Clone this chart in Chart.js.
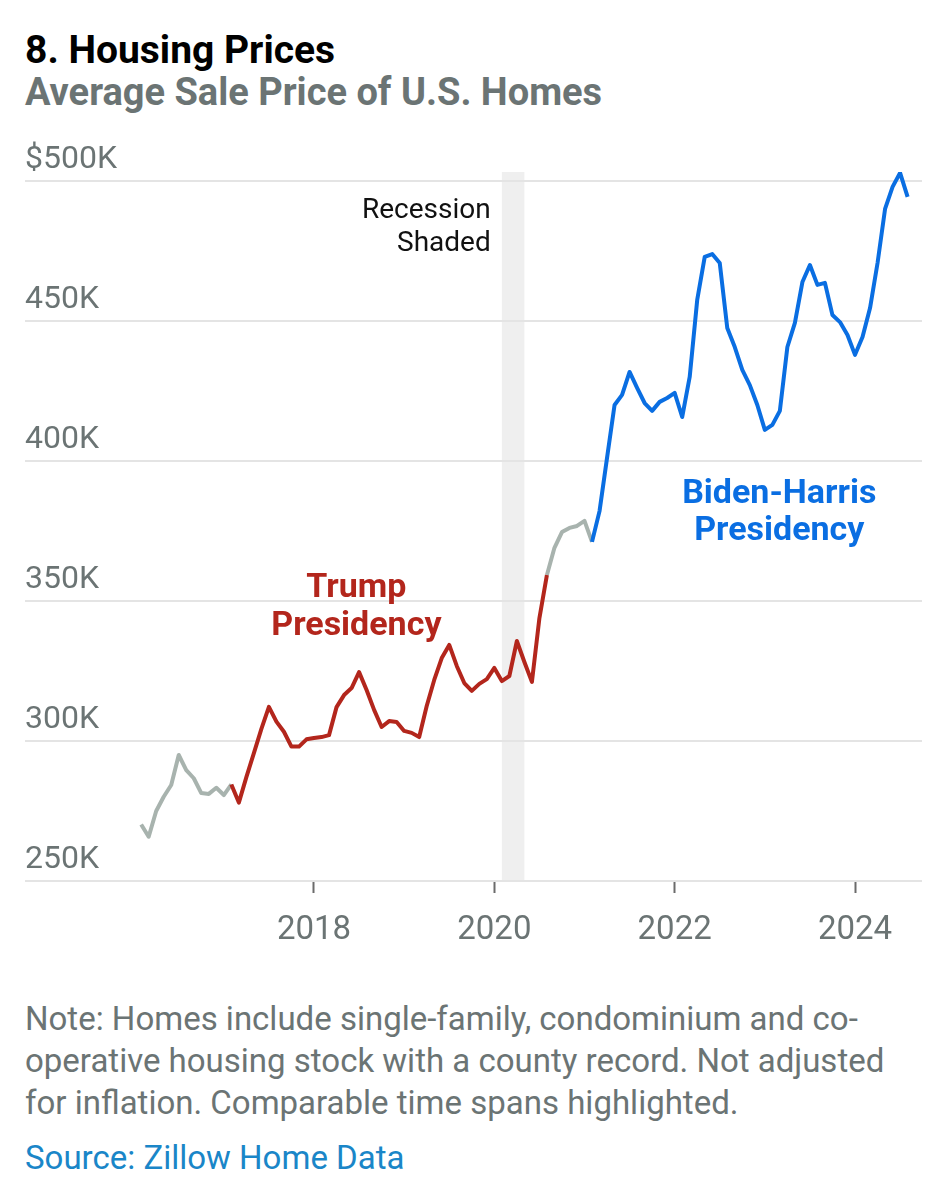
<!DOCTYPE html>
<html>
<head>
<meta charset="utf-8">
<script src="https://cdn.jsdelivr.net/npm/chart.js@4.4.0/dist/chart.umd.min.js"></script>
<style>
  body { margin: 0; background: #fff; font-family: Roboto, "Noto Sans", sans-serif; }
  #page { position: relative; width: 948px; height: 1199px; overflow: hidden; }
  .title { position: absolute; left: 25px; top: 31px; font-size: 39px; line-height: 39px; font-weight: 700; color: #000; }
  .subtitle { position: absolute; left: 25px; top: 73px; font-size: 38px; line-height: 38px; font-weight: 700; color: #6b7474; }
  #wrap { position: absolute; left: 0; top: 120px; width: 948px; height: 860px; }
  .note { position: absolute; left: 25px; top: 998px; width: 920px; font-size: 33px; line-height: 42px; color: #6b7474; }
  .source { position: absolute; left: 25px; top: 1137px; font-size: 33px; line-height: 42px; color: #1a86c8; }
</style>
</head>
<body>
<div id="page">
  <div class="title">8. Housing Prices</div>
  <div class="subtitle">Average Sale Price of U.S. Homes</div>
  <div id="wrap"><canvas id="housingChart" width="948" height="860"></canvas></div>
  <div class="note">Note: Homes include single-family, condominium and co-<br>operative housing stock with a county record. Not adjusted<br>for inflation. Comparable time spans highlighted.</div>
  <div class="source">Source: Zillow Home Data</div>
</div>
<script>
// monthly average sale price, thousands of dollars, Jan 2016 - Jul 2024
const firstMonth = "2016-01";
const prices = [
  270.2, 265.8, 275.0, 280.1, 284.3, 295.0, 289.6, 286.7, 281.4, 281.1, 283.3, 280.7,
  284.5, 278.0, 287.1, 295.7, 304.3, 312.2, 306.9, 303.3, 298.0, 298.0, 300.6, 301.1,
  301.4, 302.1, 312.1, 316.4, 318.9, 324.6, 318.2, 311.1, 305.0, 307.1, 306.8, 303.6,
  302.9, 301.4, 312.5, 321.8, 329.6, 334.3, 326.8, 320.7, 317.9, 320.4, 322.1, 326.1,
  321.4, 323.2, 335.7, 328.2, 321.1, 343.9, 359.3, 369.0, 374.6, 376.1, 376.8, 378.6,
  371.1, 382.1, 401.1, 420.0, 423.6, 431.8, 426.1, 420.7, 417.9, 421.1, 422.5, 424.3,
  415.7, 430.0, 457.5, 472.9, 473.9, 470.7, 447.5, 440.7, 432.5, 427.1, 420.0, 411.1,
  412.9, 417.9, 440.7, 449.3, 463.9, 470.0, 462.9, 463.6, 452.1, 449.6, 445.0, 437.9,
  444.3, 454.6, 470.7, 490.0, 497.9, 502.9, 494.3
];
const trumpMonths = ["2017-01", "2020-07"];
const bidenMonths = ["2021-01", "2024-07"];
const recessionMonths = ["2020-02", "2020-04"];
const xTickYears = [2018, 2020, 2022, 2024];
const yTickValues = [250, 300, 350, 400, 450, 500];

const GRAY = "#a8b3ae";
const RED = "#b3261c";
const BLUE = "#0a6ee2";

function monthIndex(m) {
  const [y, mo] = m.split("-").map(Number);
  const [y0, m0] = firstMonth.split("-").map(Number);
  return (y - y0) * 12 + (mo - m0);
}
function monthStart(m) {
  const [y, mo] = m.split("-").map(Number);
  return y + (mo - 1) / 12;
}
function monthEnd(m) {
  const [y, mo] = m.split("-").map(Number);
  return y + mo / 12;
}

const [y0, m0] = firstMonth.split("-").map(Number);
// points sit at the end of each month
const points = prices.map((v, i) => ({ x: y0 + (m0 + i) / 12, y: v }));

const trumpRange = trumpMonths.map(monthIndex);
const bidenRange = bidenMonths.map(monthIndex);

function segColor(ctx) {
  const a = ctx.p0DataIndex, b = ctx.p1DataIndex;
  if (a >= trumpRange[0] && b <= trumpRange[1]) return RED;
  if (a >= bidenRange[0] && b <= bidenRange[1]) return BLUE;
  return GRAY;
}

const labels = [
  { lines: ["Recession", "Shaded"], x: 2019.96, y: 489.3, align: "right", color: "#111", font: "400 28px Roboto", lh: 33 },
  { lines: ["Trump", "Presidency"], x: 2018.47, y: 354.3, align: "center", color: RED, font: "700 34px Roboto", lh: 38 },
  { lines: ["Biden-Harris", "Presidency"], x: 2023.16, y: 387.9, align: "center", color: BLUE, font: "700 34px Roboto", lh: 37 }
];

const recessionShade = {
  id: "recessionShade",
  beforeDraw(chart) {
    const { ctx, chartArea, scales } = chart;
    const x1 = scales.x.getPixelForValue(monthStart(recessionMonths[0]));
    const x2 = scales.x.getPixelForValue(monthEnd(recessionMonths[1]));
    ctx.save();
    ctx.fillStyle = "#efefef";
    ctx.fillRect(x1, chartArea.top, x2 - x1, chartArea.bottom - chartArea.top);
    ctx.restore();
  }
};

const textLabels = {
  id: "textLabels",
  afterDatasetsDraw(chart) {
    const { ctx, scales } = chart;
    labels.forEach((l) => {
      const px = scales.x.getPixelForValue(l.x);
      const py = scales.y.getPixelForValue(l.y);
      ctx.save();
      ctx.font = l.font;
      ctx.fillStyle = l.color;
      ctx.textAlign = l.align;
      ctx.textBaseline = "middle";
      l.lines.forEach((t, i) => ctx.fillText(t, px, py + i * l.lh));
      ctx.restore();
    });
  }
};

new Chart(document.getElementById("housingChart"), {
  type: "line",
  data: {
    datasets: [
      {
        data: points,
        borderWidth: 4,
        borderColor: GRAY,
        borderJoinStyle: "round",
        pointRadius: 0,
        tension: 0,
        segment: { borderColor: segColor }
      }
    ]
  },
  options: {
    responsive: false,
    devicePixelRatio: 1,
    animation: false,
    layout: { padding: { left: 25, right: 26, top: 52, bottom: 0 } },
    plugins: { legend: { display: false }, tooltip: { enabled: false } },
    scales: {
      x: {
        type: "linear",
        min: 2014.795,
        max: 2024.743,
        border: { display: false },
        grid: { drawOnChartArea: false, drawTicks: true, tickLength: 12, tickColor: "#6b6b6b", tickWidth: 2 },
        afterBuildTicks: (s) => { s.ticks = xTickYears.map((v) => ({ value: v })); },
        afterFit: (s) => { s.height = 99; },
        ticks: {
          padding: 18,
          color: "#6b7474",
          font: { family: "Roboto", size: 33 },
          callback: (v) => String(v),
          maxRotation: 0
        }
      },
      y: {
        min: 250,
        max: 503.2,
        border: { display: false },
        grid: { color: "#e4e4e4", lineWidth: 2, drawTicks: false },
        afterBuildTicks: (s) => { s.ticks = yTickValues.map((v) => ({ value: v })); },
        afterFit: (s) => { s.width = 0; },
        ticks: {
          mirror: true,
          padding: 0,
          labelOffset: -21,
          color: "#6b7474",
          font: { family: "Roboto", size: 32 },
          callback: (v) => (v === 500 ? "$500K" : v + "K")
        }
      }
    }
  },
  plugins: [recessionShade, textLabels]
});
</script>
</body>
</html>
